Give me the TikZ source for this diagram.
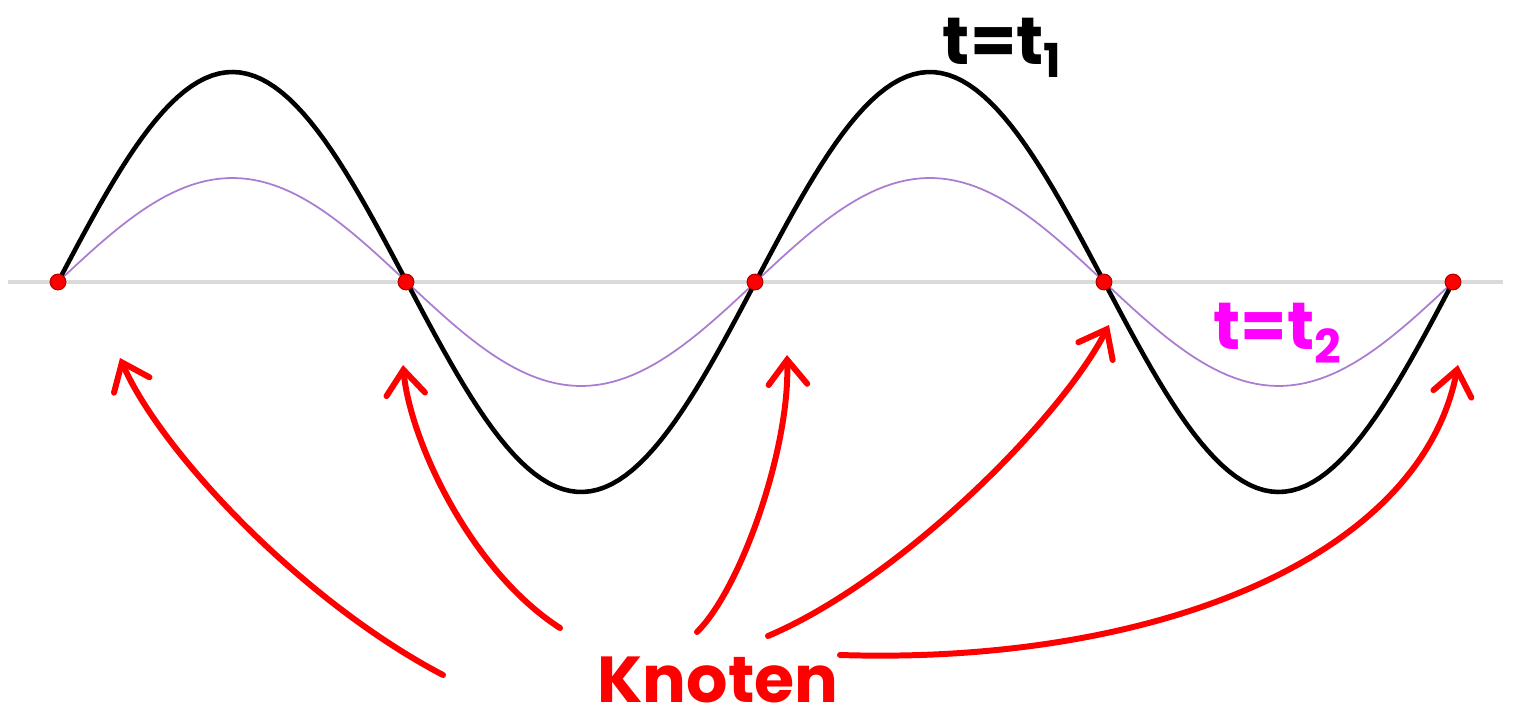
\documentclass[tikz,border=0pt]{standalone}
\usepackage{fontspec}
\setmainfont{Poppins}
\usepackage{xcolor}
\usetikzlibrary{arrows.meta,positioning,calc}
\definecolor{wavepurple}{RGB}{170,125,210}
\definecolor{axisgray}{RGB}{218,218,218}
\definecolor{labelmagenta}{RGB}{255,0,255}

\begin{document}
\begin{tikzpicture}[>={Straight Barb[length=7pt,width=11pt,line cap=round]},
  every node/.style={font=\bfseries},
  knot/.style={circle,fill=red,draw=red!70!black,line width=0.3pt,inner sep=0pt,minimum size=4.5pt},
  redarrow/.style={red,line width=1.7pt,line cap=round,->}]
  \useasboundingbox (0,0) rectangle (15.14,7.27);

  % axis
  \draw[axisgray,line width=0.9pt] (0.08,4.45) -- (15.03,4.45);

  % standing wave at two times
  \draw[wavepurple,line width=0.5pt] plot[domain=0.58:14.53,samples=200]
    (\x,{4.45+1.04*sin(deg(2*pi*(\x-0.58)/6.975))});
  \draw[black,line width=1.3pt] plot[domain=0.58:14.53,samples=200]
    (\x,{4.45+2.1*sin(deg(2*pi*(\x-0.58)/6.975))});

  % nodes of the wave
  \foreach \i/\x in {1/0.58,2/4.06,3/7.55,4/11.04,5/14.53} {
    \node[knot] (k\i) at (\x,4.45) {};
  }

  \node[font=\fontsize{19}{22}\bfseries] (tone) at (10.03,6.79) {t=t\textsubscript{1}};
  \node[font=\fontsize{19}{22}\bfseries,text=labelmagenta] (ttwo) at (12.78,3.94) {t=t\textsubscript{2}};
  \node[font=\fontsize{18.5}{22}\bfseries,text=red,anchor=base,inner sep=0pt] (knoten) at (7.18,0.24) {Knoten};

  % arrow ends
  \coordinate (s1) at (4.43,0.52);
  \coordinate (s2) at (5.60,0.99);
  \coordinate (s3) at (6.97,0.95);
  \coordinate (s4) at (7.68,0.91);
  \coordinate (s5) at (8.40,0.72);
  \coordinate (e1) at (1.20,3.69);
  \coordinate (e2) at (4.03,3.62);
  \coordinate (e3) at (7.87,3.72);
  \coordinate (e4) at (11.09,4.02);
  \coordinate (e5) at (14.58,3.62);

  \draw[redarrow] (s1) .. controls (3.0,1.27) and (1.6,2.77) .. (e1);
  \draw[redarrow] (s2) .. controls (4.7,1.57) and (4.1,2.87) .. (e2);
  \draw[redarrow] (s3) .. controls (7.4,1.37) and (7.9,2.77) .. (e3);
  \draw[redarrow] (s4) .. controls (9.0,1.47) and (10.6,3.07) .. (e4);
  \draw[redarrow] (s5) .. controls (11.5,0.62) and (14.2,1.67) .. (e5);
\end{tikzpicture}
\end{document}
